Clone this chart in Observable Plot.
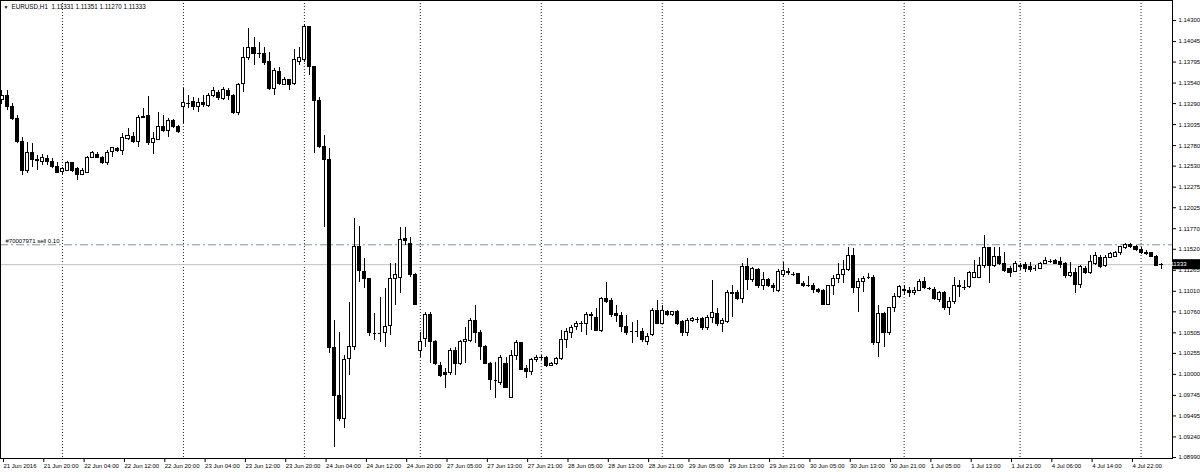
<!DOCTYPE html>
<html><head><meta charset="utf-8">
<script src="https://cdn.jsdelivr.net/npm/d3@7"></script>
<script src="https://cdn.jsdelivr.net/npm/@observablehq/plot@0.6"></script>
<style>html,body{margin:0;padding:0;background:#fff;} svg{display:block;}</style>
</head><body><div id="chart"></div>
<script>
const symbol = "EURUSD,H1";
const opens = [
1.13328,1.13388,1.13243,1.13109,1.12818,1.12477,1.12684,1.12611,1.12575,1.12623,
1.12575,1.12514,1.12465,1.12477,1.12563,1.12490,1.12428,1.12453,1.12635,1.12671,
1.12635,1.12563,1.12708,1.12733,1.12720,1.12866,1.12890,1.12818,1.13121,1.13145,
1.12806,1.12854,1.13012,1.12963,1.13073,1.13000,1.13243,1.13292,1.13304,1.13255,
1.13292,1.13267,1.13388,1.13425,1.13352,1.13449,1.13388,1.13170,1.13534,1.13850,
1.13960,1.13899,1.13899,1.13790,1.13473,1.13680,1.13522,1.13571,1.13534,1.13790,
1.13814,1.14215,1.13741,1.13316,1.12757,1.12599,1.10315,1.09743,1.09464,1.10181,
1.10327,1.11542,1.11250,1.11153,1.10497,1.10497,1.10497,1.10582,1.11165,1.11177,
1.11651,1.11590,1.11202,1.10290,1.10436,1.10716,1.10388,1.10108,1.10011,1.10011,
1.10290,1.10132,1.10388,1.10400,1.10643,1.10497,1.10327,1.10132,1.09926,1.09890,
1.10132,1.09719,1.10218,1.10376,1.10071,1.10023,1.10169,1.10205,1.10205,1.10108,
1.10132,1.10181,1.10412,1.10497,1.10570,1.10618,1.10618,1.10704,1.10691,1.10533,
1.10922,1.10886,1.10728,1.10704,1.10570,1.10521,1.10521,1.10509,1.10388,1.10473,
1.10776,1.10618,1.10752,1.10716,1.10752,1.10631,1.10497,1.10643,1.10667,1.10679,
1.10558,1.10691,1.10728,1.10618,1.10631,1.10995,1.10983,1.10922,1.11299,1.11141,
1.11274,1.11080,1.11141,1.11080,1.11019,1.11202,1.11250,1.11214,1.11214,1.11104,
1.11080,1.11080,1.11031,1.11019,1.10849,1.11068,1.11153,1.11202,1.11274,1.11444,
1.11044,1.11117,1.11177,1.11177,1.10376,1.10728,1.10497,1.10801,1.10935,1.11031,
1.11019,1.10983,1.11019,1.11117,1.11044,1.11031,1.10898,1.10983,1.10801,1.10874,
1.11068,1.11056,1.11056,1.11177,1.11177,1.11311,1.11530,1.11311,1.11432,1.11347,
1.11286,1.11250,1.11323,1.11335,1.11299,1.11286,1.11286,1.11347,1.11372,1.11372,
1.11360,1.11347,1.11190,1.11226,1.11092,1.11286,1.11226,1.11347,1.11420,1.11323,
1.11420,1.11432,1.11469,1.11530,1.11578,1.11542,1.11517,1.11481,1.11469,1.11432,1.11331];
const highs = [
1.13449,1.13449,1.13292,1.13145,1.12878,1.12818,1.12806,1.12659,1.12671,1.12659,
1.12623,1.12575,1.12514,1.12587,1.12575,1.12514,1.12502,1.12647,1.12708,1.12696,
1.12647,1.12720,1.12757,1.12757,1.12927,1.12988,1.12939,1.13145,1.13230,1.13376,
1.12939,1.13182,1.13145,1.13109,1.13097,1.13024,1.13473,1.13388,1.13364,1.13352,
1.13388,1.13413,1.13486,1.13449,1.13486,1.13473,1.13400,1.13534,1.13972,1.14203,
1.14093,1.14033,1.13972,1.13911,1.13717,1.13729,1.13607,1.13583,1.13948,1.13972,
1.14251,1.14227,1.13741,1.13364,1.12902,1.12745,1.10655,1.10509,1.10230,1.10874,
1.11894,1.11797,1.11408,1.11165,1.10740,1.10935,1.11044,1.11347,1.11347,1.11785,
1.11785,1.11663,1.11226,1.10509,1.10752,1.10752,1.10412,1.10145,1.10071,1.10315,
1.10327,1.10412,1.10570,1.10679,1.10837,1.10533,1.10351,1.10145,1.10145,1.10230,
1.10205,1.10290,1.10412,1.10388,1.10108,1.10193,1.10230,1.10230,1.10218,1.10145,
1.10205,1.10533,1.10558,1.10594,1.10643,1.10643,1.10752,1.10752,1.10801,1.10935,
1.11117,1.10922,1.10837,1.10752,1.10716,1.10631,1.10655,1.10558,1.10497,1.10801,
1.10898,1.10837,1.10776,1.10764,1.10776,1.10655,1.10679,1.10691,1.10691,1.10691,
1.10716,1.11141,1.10801,1.10679,1.11019,1.11080,1.11019,1.11347,1.11408,1.11299,
1.11286,1.11238,1.11165,1.11104,1.11274,1.11360,1.11286,1.11238,1.11226,1.11129,
1.11190,1.11104,1.11044,1.11031,1.11080,1.11202,1.11347,1.11384,1.11542,1.11530,
1.11165,1.11190,1.11226,1.11202,1.10837,1.10752,1.10813,1.10983,1.11080,1.11080,
1.11056,1.11056,1.11153,1.11177,1.11056,1.11056,1.11007,1.11007,1.10935,1.11177,
1.11141,1.11141,1.11250,1.11384,1.11420,1.11688,1.11542,1.11542,1.11542,1.11481,
1.11311,1.11372,1.11347,1.11360,1.11360,1.11323,1.11360,1.11420,1.11396,1.11396,
1.11420,1.11360,1.11360,1.11286,1.11323,1.11311,1.11444,1.11481,1.11444,1.11444,
1.11481,1.11493,1.11554,1.11590,1.11590,1.11566,1.11542,1.11505,1.11481,1.11444,1.11351];
const lows = [
1.13279,1.13206,1.13085,1.12806,1.12416,1.12441,1.12514,1.12477,1.12538,1.12538,
1.12502,1.12441,1.12416,1.12465,1.12453,1.12356,1.12416,1.12453,1.12623,1.12623,
1.12550,1.12538,1.12635,1.12696,1.12659,1.12842,1.12806,1.12757,1.13109,1.12781,
1.12671,1.12842,1.12939,1.12878,1.12988,1.12927,1.13049,1.13230,1.13206,1.13182,
1.13243,1.13243,1.13364,1.13328,1.13328,1.13328,1.13157,1.13145,1.13425,1.13814,
1.13753,1.13838,1.13753,1.13449,1.13388,1.13510,1.13510,1.13449,1.13510,1.13753,
1.13790,1.13632,1.12684,1.12745,1.11785,1.10254,1.09112,1.09428,1.09343,1.09986,
1.10290,1.11117,1.11044,1.10460,1.10412,1.10388,1.10327,1.10473,1.10837,1.10983,
1.11566,1.11177,1.10837,1.10205,1.10327,1.10132,1.10108,1.09962,1.09828,1.09986,
1.09986,1.10108,1.10132,1.10388,1.10376,1.10169,1.10120,1.09804,1.09707,1.09865,
1.09828,1.09707,1.10169,1.10047,1.09950,1.09986,1.10145,1.10169,1.10084,1.10096,
1.10108,1.10169,1.10315,1.10436,1.10533,1.10509,1.10473,1.10533,1.10521,1.10509,
1.10862,1.10691,1.10631,1.10509,1.10473,1.10376,1.10449,1.10388,1.10351,1.10460,
1.10606,1.10606,1.10704,1.10704,1.10594,1.10460,1.10460,1.10631,1.10618,1.10533,
1.10533,1.10618,1.10582,1.10509,1.10618,1.10691,1.10898,1.10862,1.11019,1.11117,
1.11044,1.11019,1.11056,1.10995,1.10995,1.11177,1.11202,1.11190,1.11092,1.11056,
1.11056,1.10983,1.10983,1.10837,1.10837,1.10959,1.11104,1.11104,1.11250,1.10983,
1.10752,1.10995,1.11153,1.10351,1.10205,1.10327,1.10473,1.10752,1.10922,1.10959,
1.10935,1.10959,1.11007,1.11031,1.11019,1.10898,1.10874,1.10776,1.10716,1.10849,
1.10935,1.11019,1.11044,1.11165,1.11165,1.11286,1.11104,1.11299,1.11323,1.11238,
1.11177,1.11238,1.11262,1.11238,1.11238,1.11250,1.11274,1.11335,1.11347,1.11335,
1.11286,1.11165,1.11177,1.10983,1.11044,1.11214,1.11214,1.11323,1.11286,1.11299,
1.11408,1.11420,1.11444,1.11517,1.11530,1.11493,1.11457,1.11444,1.11420,1.11311,1.11270];
const closes = [
1.13388,1.13243,1.13109,1.12818,1.12477,1.12684,1.12611,1.12587,1.12635,1.12575,
1.12514,1.12453,1.12490,1.12563,1.12477,1.12428,1.12477,1.12635,1.12684,1.12635,
1.12563,1.12696,1.12745,1.12720,1.12878,1.12902,1.12818,1.13121,1.13133,1.12806,
1.12866,1.13012,1.12963,1.13073,1.13000,1.12951,1.13292,1.13292,1.13243,1.13292,
1.13279,1.13388,1.13449,1.13364,1.13461,1.13388,1.13170,1.13522,1.13850,1.13960,
1.13887,1.13887,1.13778,1.13473,1.13692,1.13534,1.13583,1.13522,1.13814,1.13850,
1.14227,1.13741,1.13316,1.12757,1.12611,1.10315,1.09743,1.09464,1.10169,1.10327,
1.11542,1.11262,1.11165,1.10497,1.10497,1.10497,1.10570,1.11165,1.11202,1.11627,
1.11615,1.11202,1.10849,1.10388,1.10716,1.10388,1.10132,1.09986,1.09998,1.10290,
1.10132,1.10388,1.10412,1.10643,1.10497,1.10327,1.10132,1.09926,1.09926,1.10205,
1.09840,1.10218,1.10376,1.10059,1.10023,1.10169,1.10205,1.10205,1.10108,1.10132,
1.10193,1.10412,1.10509,1.10558,1.10618,1.10618,1.10716,1.10716,1.10533,1.10922,
1.10874,1.10716,1.10704,1.10570,1.10497,1.10521,1.10521,1.10412,1.10460,1.10776,
1.10618,1.10776,1.10716,1.10752,1.10618,1.10497,1.10643,1.10679,1.10667,1.10558,
1.10691,1.10740,1.10618,1.10643,1.10983,1.10971,1.10922,1.11299,1.11141,1.11286,
1.11080,1.11141,1.11080,1.11044,1.11250,1.11262,1.11226,1.11214,1.11104,1.11068,
1.11080,1.11031,1.11007,1.10849,1.11068,1.11153,1.11202,1.11274,1.11444,1.11044,
1.11117,1.11165,1.11177,1.10376,1.10728,1.10497,1.10801,1.10935,1.11056,1.11019,
1.10983,1.11019,1.11117,1.11044,1.11044,1.10910,1.10983,1.10801,1.10874,1.11068,
1.11056,1.11056,1.11226,1.11226,1.11311,1.11530,1.11311,1.11432,1.11347,1.11262,
1.11238,1.11347,1.11299,1.11286,1.11274,1.11286,1.11347,1.11372,1.11372,1.11347,
1.11335,1.11190,1.11226,1.11092,1.11299,1.11226,1.11360,1.11444,1.11299,1.11420,
1.11457,1.11469,1.11542,1.11578,1.11542,1.11517,1.11469,1.11457,1.11432,1.11323,1.11333];

// time axis labels, one every 8 H1 bars from the first visible bar
const labelStep = 8;
const timeLabels = ["21 Jun 2016","21 Jun 20:00","22 Jun 04:00","22 Jun 12:00","22 Jun 20:00",
"23 Jun 04:00","23 Jun 12:00","23 Jun 20:00","24 Jun 04:00","24 Jun 12:00","24 Jun 20:00",
"27 Jun 05:00","27 Jun 13:00","27 Jun 21:00","28 Jun 05:00","28 Jun 13:00","28 Jun 21:00",
"29 Jun 05:00","29 Jun 13:00","29 Jun 21:00","30 Jun 05:00","30 Jun 13:00","30 Jun 21:00",
"1 Jul 05:00","1 Jul 13:00","1 Jul 21:00","4 Jul 06:00","4 Jul 14:00","4 Jul 22:00"];
// number of H1 bars shown for each trading day (21 Jun .. 5 Jul)
const dayBars = [12, 24, 24, 23, 24, 24, 24, 24, 23, 24, 5];
const priceTicks = [1.14300,1.14045,1.13795,1.13540,1.13290,1.13035,1.12780,1.12530,1.12275,1.12025,
1.11770,1.11520,1.11265,1.11010,1.10760,1.10505,1.10255,1.10000,1.09745,1.09495,1.09240,1.08990];
const orderPrice = 1.11575;
const orderLabel = "#70007971 sell 0.10";
const bidPrice = 1.11333;

const candles = opens.map((o, i) => ({i, open: o, high: highs[i], low: lows[i], close: closes[i]}));
const dojis = candles.filter(d => Math.abs(d.open - d.close) < 0.00002);
const separators = [];
{ let s = 0; dayBars.forEach((n, k) => { if (k > 0) separators.push(s); s += n; }); }
const labelTicks = timeLabels.map((t, k) => k * labelStep);
const labelOf = new Map(timeLabels.map((t, k) => [k * labelStep, t]));
const last = candles[candles.length - 1];
const header = `${symbol}  ${last.open.toFixed(5)} ${last.high.toFixed(5)} ${last.low.toFixed(5)} ${last.close.toFixed(5)}`;

const FONT = "'Liberation Sans', Arial, sans-serif";
const hasAxisMarks = typeof Plot.axisX === "function";

const marks = [
  Plot.ruleX(separators, {x: d => d, stroke: "#222", strokeDasharray: "1,2"}),
  Plot.ruleY([orderPrice], {stroke: "#7b95a6", strokeDasharray: "8,3,2,3"}),
  Plot.ruleY([bidPrice], {stroke: "#c0c0c0"}),
  Plot.ruleX(candles, {x: "i", y1: "low", y2: "high", stroke: "black", shapeRendering: "crispEdges"}),
  Plot.rect(candles, {x1: d => d.i - 0.3, x2: d => d.i + 0.3, y1: "open", y2: "close",
    fill: d => d.close >= d.open ? "white" : "black", stroke: "black", shapeRendering: "crispEdges"}),
  Plot.ruleY(dojis, {x1: d => d.i - 0.35, x2: d => d.i + 0.35, y: "close", stroke: "black", shapeRendering: "crispEdges"}),
  Plot.text([header], {frameAnchor: "top-left", dx: 11, dy: 4, lineAnchor: "top", textAnchor: "start", fontSize: 6.3, fill: "black"}),
  Plot.text(["▼"], {frameAnchor: "top-left", dx: 3, dy: 5, lineAnchor: "top", textAnchor: "start", fontSize: 5, fill: "black"}),
  Plot.text([orderPrice], {y: d => d, frameAnchor: "left", dx: 5, dy: -1.5, lineAnchor: "bottom", textAnchor: "start",
    text: () => orderLabel, fontSize: 6, fill: "black"}),
];
if (hasAxisMarks) {
  marks.push(
    Plot.axisY(priceTicks, {anchor: "right", tickSize: 3, tickPadding: 3, tickFormat: d => d.toFixed(5), fontSize: 6, label: null}),
    Plot.axisX(labelTicks, {anchor: "bottom", tickSize: 4, tickPadding: 1, tickFormat: d => labelOf.get(d), textAnchor: "start", dx: 1.5, fontSize: 6, label: null})
  );
}
marks.push(Plot.frame({stroke: "black"}));

const chart = Plot.plot({
  width: 1200, height: 472,
  marginTop: 0, marginLeft: 0, marginRight: 28, marginBottom: 14,
  style: {fontFamily: FONT, fontSize: "6px", background: "white", color: "black", overflow: "visible"},
  x: hasAxisMarks ? {domain: [-0.2976, 232.24]} : {domain: [-0.2976, 232.24], ticks: labelTicks, tickFormat: d => labelOf.get(d), label: null},
  y: hasAxisMarks ? {domain: [1.08978, 1.14543]} : {domain: [1.08978, 1.14543], axis: "right", ticks: priceTicks, tickFormat: d => d.toFixed(5), label: null},
  marks
});
document.getElementById("chart").appendChild(chart);

// current bid price box on the price axis
const ys = chart.scale("y"), xs = chart.scale("x");
const yb = ys.apply(bidPrice);
const right = xs.range[1];
const svg = d3.select(chart);
svg.append("rect").attr("x", right + 1).attr("y", yb - 5).attr("width", 1200 - right - 1).attr("height", 10).attr("fill", "black");
svg.append("text").attr("x", right + 4).attr("y", yb).attr("dy", "0.35em").attr("fill", "white")
  .attr("font-size", 6).attr("font-family", FONT).text(bidPrice.toFixed(5));
</script>
</body></html>
